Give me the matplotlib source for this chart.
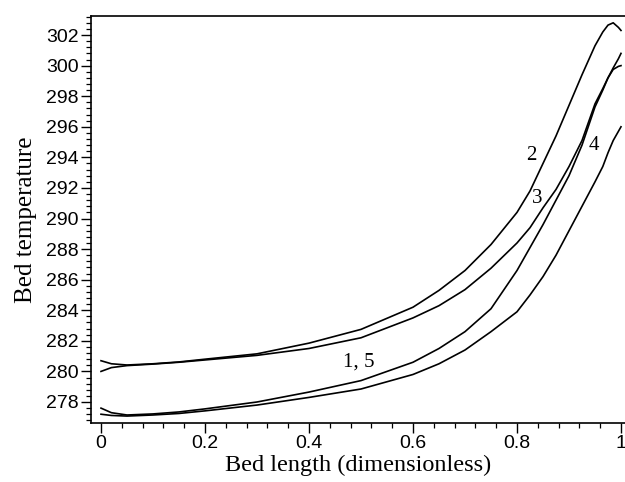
import matplotlib
matplotlib.use("Agg")
import matplotlib.pyplot as plt
from matplotlib.ticker import MultipleLocator, FixedLocator

# bed length (dimensionless), shared grid for all profiles
x = [0, 0.02, 0.05, 0.1, 0.15, 0.2, 0.3, 0.4, 0.5, 0.6, 0.65, 0.7, 0.75,
     0.8, 0.825, 0.85, 0.875, 0.9, 0.925, 0.95, 0.965, 0.975, 0.985, 0.995, 1.0]

# bed temperature profiles
T_2 = [280.7, 280.5, 280.42, 280.5, 280.62, 280.8, 281.15, 281.85, 282.75, 284.2,
       285.3, 286.6, 288.3, 290.4, 291.8, 293.6, 295.4, 297.4, 299.4, 301.3,
       302.2, 302.65, 302.8, 302.5, 302.3]
T_3 = [280.0, 280.25, 280.38, 280.48, 280.6, 280.75, 281.05, 281.5, 282.2, 283.5,
       284.3, 285.35, 286.75, 288.4, 289.4, 290.7, 291.9, 293.4, 295.1, 297.5,
       298.5, 299.2, 299.85, 300.45, 300.8]
T_15 = [277.6, 277.3, 277.15, 277.22, 277.35, 277.55, 278.0, 278.65, 279.4, 280.6,
        281.5, 282.6, 284.1, 286.6, 288.1, 289.6, 291.2, 292.8, 294.8, 297.3,
        298.4, 299.2, 299.75, 299.95, 300.0]
T_4 = [277.2, 277.12, 277.08, 277.15, 277.25, 277.42, 277.8, 278.3, 278.85, 279.8,
       280.5, 281.4, 282.6, 283.9, 285.0, 286.2, 287.6, 289.2, 290.8, 292.4,
       293.4, 294.3, 295.1, 295.7, 296.0]

curve_labels = ["2", "3", "4", "1, 5"]
label_x = [0.828, 0.838, 0.947, 0.495]
label_y = [294.15, 291.3, 294.8, 280.64]

xticks = [0, 0.2, 0.4, 0.6, 0.8, 1.0]
xticklabels = ["0", "0.2", "0.4", "0.6", "0.8", "1"]
yticks = list(range(278, 303, 2))

fig = plt.figure(figsize=(6.25, 4.82), dpi=100)
ax = fig.add_axes([91/625, 59/482, 534/625, 407/482])

for T in (T_2, T_3, T_15, T_4):
    ax.plot(x, T, color="black", lw=1.2)

for s, lx, ly in zip(curve_labels, label_x, label_y):
    ax.text(lx, ly, s, fontsize=15, family="Liberation Serif",
            ha="center", va="center")

ax.set_xlim(-10/520, 1 + 4/520)
ax.set_ylim(278 - 21/15.29, 278 + 386/15.29)

ax.xaxis.set_major_locator(FixedLocator(xticks))
ax.set_xticklabels(xticklabels)
ax.xaxis.set_minor_locator(MultipleLocator(0.04))
ax.set_yticks(yticks)
ax.yaxis.set_minor_locator(MultipleLocator(0.4))

ax.tick_params(which="major", direction="out", length=7, width=1.0,
               labelsize=14, pad=2)
ax.tick_params(which="minor", direction="out", length=3.5, width=0.9)
for lab in ax.get_xticklabels() + ax.get_yticklabels():
    lab.set_family("Liberation Sans")

ax.spines["right"].set_visible(False)
for sp in ("left", "bottom", "top"):
    ax.spines[sp].set_linewidth(1.2)

ax.set_xlabel("Bed length (dimensionless)", family="Liberation Serif",
              fontsize=17.5, labelpad=2)
ax.set_ylabel("Bed temperature", family="Liberation Serif",
              fontsize=18, labelpad=6)

fig.savefig("out.png", dpi=100)
